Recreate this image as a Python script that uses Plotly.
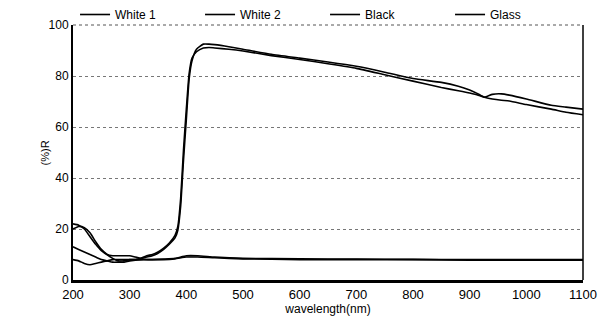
import plotly.graph_objects as go

# Shared wavelength grid for the two white samples (nm)
wl_white = [200, 210, 220, 230, 240, 250, 260, 270, 280, 290, 300, 310, 320, 330, 340,
            350, 360, 370, 380, 385, 390, 395, 400, 405, 410, 418, 430, 440, 450, 475, 500,
            550, 600, 650, 700, 750, 800, 850, 880, 900, 915, 926, 940, 956, 970, 1000,
            1044, 1070, 1100]
white1 = [22, 21.5, 20, 17, 14, 11.5, 10, 9.5, 9.5, 9.5, 9.5, 9, 8.5, 9, 9.5,
          10.5, 12, 14, 16.5, 19.5, 29, 47, 63, 79, 86, 90.5, 92.5, 92.5, 92.3, 91.5, 90.5,
          88.5, 87, 85.5, 83.8, 81.5, 79, 77.5, 76, 74.5, 73, 71.7, 72.8, 73, 72.5, 71,
          68.5, 67.8, 67]
white2 = [20, 21, 20.5, 18.5, 15, 12, 10, 8.5, 7.5, 7.5, 8, 8, 8.5, 9.5, 10,
          11, 12.5, 14.5, 17.5, 21, 32, 51, 67, 81, 87, 89.5, 91, 91.2, 91, 90.5, 89.8,
          88, 86.5, 84.8, 83, 80.5, 78, 75.5, 74.2, 73.3, 72.5, 71.7, 71, 70.5, 70.2, 68.8,
          67, 65.8, 64.8]

wl_dark = [200, 210, 220, 230, 240, 250, 260, 270, 280, 290, 300, 320, 340, 360, 380,
           400, 420, 450, 500, 600, 700, 800, 900, 1000, 1100]
black = [13, 12, 11, 10, 9, 8, 7.5, 7, 7, 7, 7.5, 8, 8, 8.2, 8.5,
         9.5, 9.5, 9, 8.5, 8.3, 8.2, 8.1, 8, 8, 8]
glass = [8, 7.5, 6.5, 6, 6.5, 7, 7.5, 8, 8, 8, 8, 8, 8, 8, 8.3,
         9, 9, 8.7, 8.3, 8, 8, 8, 7.8, 7.8, 7.8]

x_ticks = [200, 300, 400, 500, 600, 700, 800, 900, 1000, 1100]
y_ticks = [0, 20, 40, 60, 80, 100]

FONT = "Liberation Sans, Arial, sans-serif"

fig = go.Figure()
for name, xs, ys in [("White 1", wl_white, white1), ("White 2", wl_white, white2),
                     ("Black", wl_dark, black), ("Glass", wl_dark, glass)]:
    fig.add_trace(go.Scatter(x=xs, y=ys, name=name, mode="lines",
                             line=dict(color="black", width=1.6, shape="spline", smoothing=0.5)))

fig.update_layout(
    width=613, height=330,
    margin=dict(l=73, r=30, t=25, b=50, autoexpand=False),
    paper_bgcolor="white", plot_bgcolor="white",
    font=dict(family=FONT, size=12, color="black"),
    showlegend=True,
    legend=dict(orientation="h", x=0.004, xanchor="left",
                yref="container", y=1.0, yanchor="top",
                entrywidth=80, entrywidthmode="pixels",
                font=dict(size=12), itemwidth=30, tracegroupgap=0,
                bgcolor="rgba(0,0,0,0)"),
    xaxis=dict(range=[200, 1100], tickvals=x_ticks, ticktext=[str(v) for v in x_ticks],
               showgrid=False, zeroline=False, showline=True, linecolor="black",
               linewidth=3, mirror=False, ticks="", tickfont=dict(size=13),
               title=dict(text="wavelength(nm)", font=dict(size=12), standoff=4)),
    yaxis=dict(range=[0, 100], tickvals=y_ticks, ticktext=[str(v) for v in y_ticks],
               showgrid=True, gridcolor="#777", griddash="dot", gridwidth=1,
               zeroline=False, showline=True, linecolor="black", linewidth=2,
               mirror=False, ticks="", tickfont=dict(size=12)),
    annotations=[dict(text="(%)R", xref="paper", yref="paper", x=-0.055, y=0.5,
                      xanchor="center", yanchor="middle", textangle=-90,
                      showarrow=False, font=dict(size=11))],
)
# right border and top border
fig.add_shape(type="line", xref="paper", yref="paper", x0=1, x1=1, y0=0, y1=1,
              line=dict(color="black", width=1.5))
fig.add_shape(type="line", xref="paper", yref="paper", x0=0, x1=1, y0=1, y1=1,
              line=dict(color="#555", width=1, dash="dot"))

fig.write_html("out.html")
